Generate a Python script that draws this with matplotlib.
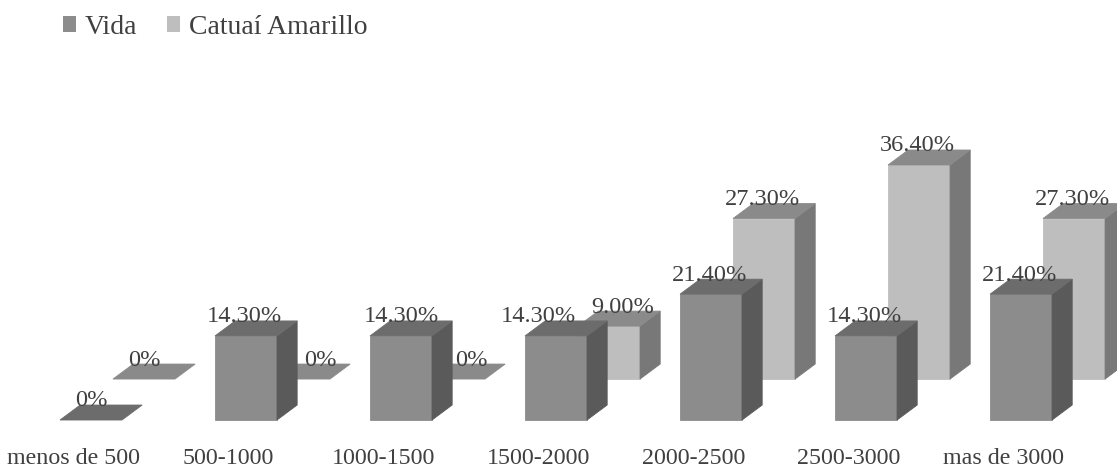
import matplotlib
matplotlib.use("Agg")
import matplotlib.pyplot as plt
from matplotlib.patches import Polygon, Patch

# ---- data -------------------------------------------------------------
categories = ["menos de 500", "500-1000", "1000-1500", "1500-2000",
              "2000-2500", "2500-3000", "mas de 3000"]
vida = [0.0, 14.3, 14.3, 14.3, 21.4, 14.3, 21.4]
catuai = [0.0, 0.0, 0.0, 9.0, 27.3, 36.4, 27.3]
series_names = ["Vida", "Catuaí Amarillo"]

# ---- styling ----------------------------------------------------------
FONT = ["Liberation Serif", "DejaVu Serif"]
TXT = "#404040"
# (front, top, side) colours per series
vida_cols = ("#8c8c8c", "#6c6c6c", "#5a5a5a")
cat_cols = ("#bebebe", "#8a8a8a", "#787878")

W = 0.40          # bar width (category units)
DX, DY = 0.13, 2.55   # oblique depth of a bar
RX, RY = 0.342, 6.97  # offset of the back row

# small horizontal nudges of individual value labels
vida_nudge = [0, -0.01, 0, -0.115, -0.01, -0.01, -0.01]
cat_nudge = [0, 0.14, 0.115, 0.09, -0.01, -0.01, -0.01]

fig = plt.figure(figsize=(11.17, 4.70), dpi=100)
ax = fig.add_axes([0, 0, 1, 1])
ax.set_xlim(-0.587, 6.619)
ax.set_ylim(-8.50, 71.43)
ax.axis("off")


def bar3d(x_center, base, value, cols, z):
    x0 = x_center - W / 2
    x1 = x_center + W / 2
    y0 = base
    y1 = base + value
    front, top, side = cols
    kw = dict(closed=True, linewidth=0.6, zorder=z)
    if value > 0:
        ax.add_patch(Polygon([(x0, y0), (x1, y0), (x1, y1), (x0, y1)],
                             facecolor=front, edgecolor=front, **kw))
        ax.add_patch(Polygon([(x1, y0), (x1 + DX, y0 + DY),
                              (x1 + DX, y1 + DY), (x1, y1)],
                             facecolor=side, edgecolor=side, **kw))
    ax.add_patch(Polygon([(x0, y1), (x1, y1), (x1 + DX, y1 + DY),
                          (x0 + DX, y1 + DY)],
                         facecolor=top, edgecolor=top, **kw))


def fmt(v):
    return "0%" if v == 0 else f"{v:.2f}%"


# back row first, then the front row on top of it
for i, v in enumerate(catuai):
    xc = i + RX
    bar3d(xc, RY, v, cat_cols, 1)
    ax.text(xc + cat_nudge[i], RY + v + DY - 0.25, fmt(v), ha="center",
            va="baseline", fontsize=17.6, family=FONT, color=TXT, zorder=2)

for i, v in enumerate(vida):
    bar3d(i, 0.0, v, vida_cols, 3)
    ax.text(i + vida_nudge[i], v + DY - 0.25, fmt(v), ha="center",
            va="baseline", fontsize=17.6, family=FONT, color=TXT, zorder=4)

for i, name in enumerate(categories):
    ax.text(i - 0.115, -7.45, name, ha="center", va="baseline",
            fontsize=17.3, family=FONT, color=TXT)

handles = [Patch(facecolor=vida_cols[0], edgecolor="none"),
           Patch(facecolor=cat_cols[0], edgecolor="none")]
fig.legend(handles, series_names, loc="upper left",
           bbox_to_anchor=(63 / 1117, 1 - 15 / 470), ncol=2, frameon=False,
           prop={"family": FONT, "size": 20}, labelcolor=TXT,
           handlelength=0.47, handleheight=0.47, handletextpad=0.32,
           columnspacing=1.05, borderpad=0, borderaxespad=0)

fig.savefig("out.png", dpi=100)
